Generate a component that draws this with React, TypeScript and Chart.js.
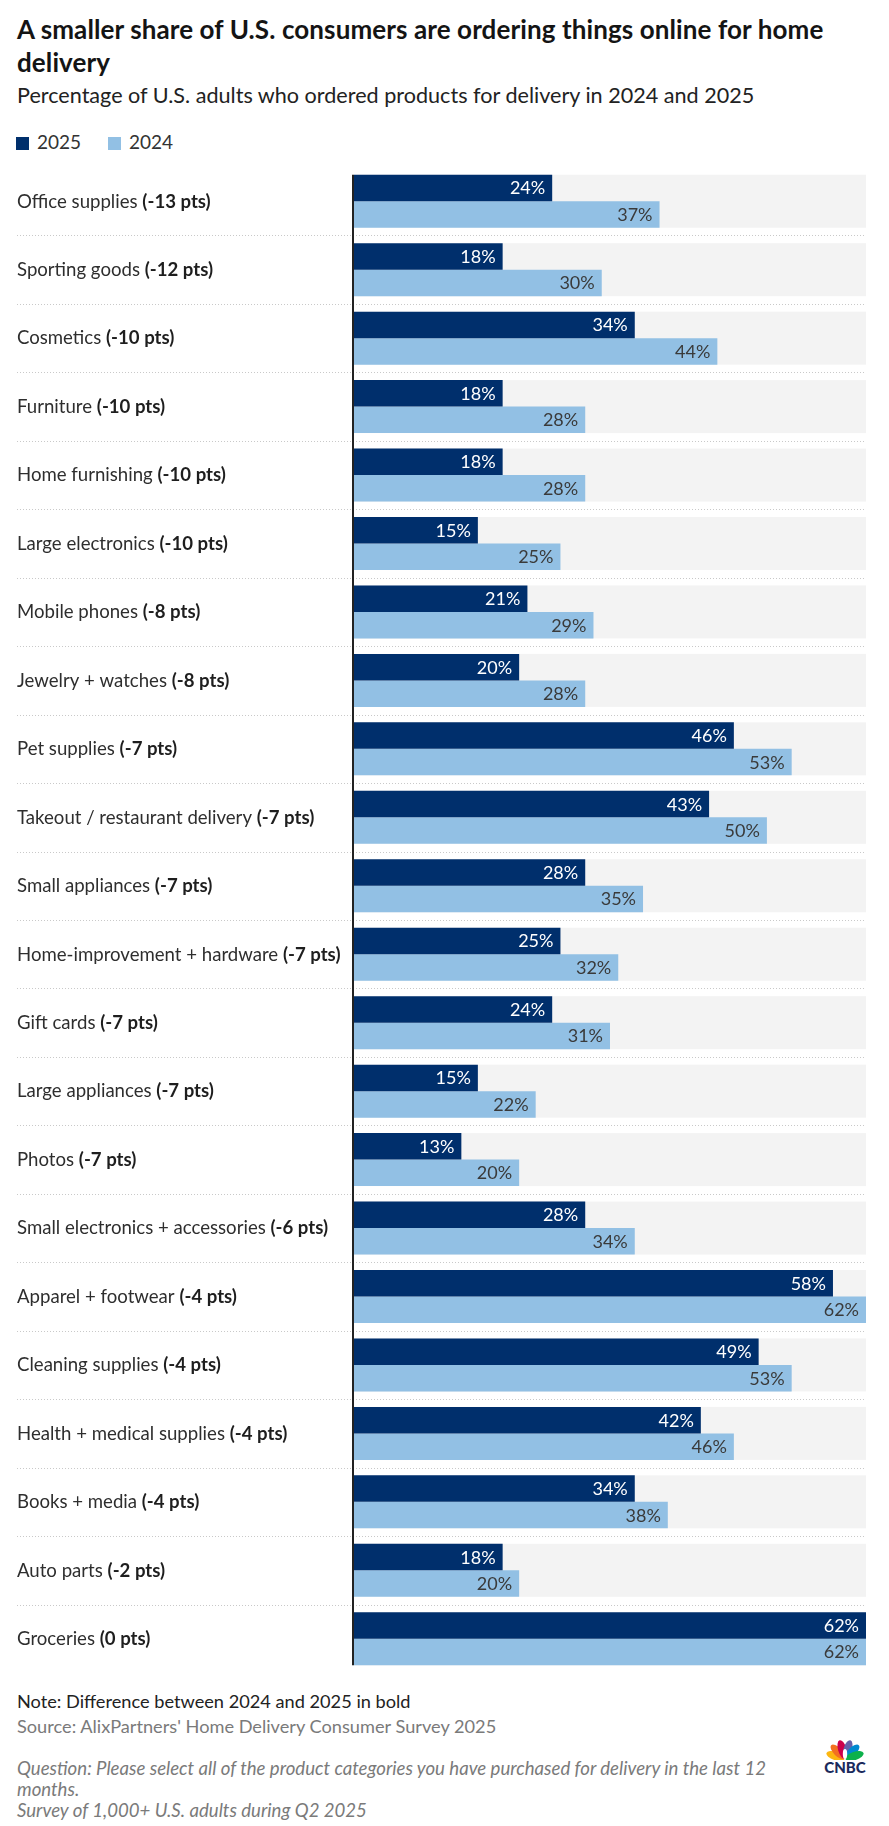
import { useEffect, useRef } from "react";
import { Chart, registerables } from "chart.js";

Chart.register(...registerables);

// Product categories, top to bottom
const categories = [
  "Office supplies",
  "Sporting goods",
  "Cosmetics",
  "Furniture",
  "Home furnishing",
  "Large electronics",
  "Mobile phones",
  "Jewelry + watches",
  "Pet supplies",
  "Takeout / restaurant delivery",
  "Small appliances",
  "Home-improvement + hardware",
  "Gift cards",
  "Large appliances",
  "Photos",
  "Small electronics + accessories",
  "Apparel + footwear",
  "Cleaning supplies",
  "Health + medical supplies",
  "Books + media",
  "Auto parts",
  "Groceries",
];

// Share of U.S. adults (%) who ordered each category for delivery
const values2025 = [24, 18, 34, 18, 18, 15, 21, 20, 46, 43, 28, 25, 24, 15, 13, 28, 58, 49, 42, 34, 18, 62];
const values2024 = [37, 30, 44, 28, 28, 25, 29, 28, 53, 50, 35, 32, 31, 22, 20, 34, 62, 53, 46, 38, 20, 62];

const seriesNames = ["2025", "2024"];
const axisMax = 62;

const FONT = "Lato, 'Noto Sans', sans-serif";
const DARK = "#002f6c";
const LIGHT = "#92c0e4";

const decorPlugin = {
  id: "decor",
  beforeDatasetsDraw(chart: any) {
    const ctx = chart.ctx;
    const area = chart.chartArea;
    const top = chart.getDatasetMeta(0).data;
    const bot = chart.getDatasetMeta(1).data;
    ctx.save();
    // light grey track behind each pair of bars
    ctx.fillStyle = "#f3f3f3";
    for (let i = 0; i < top.length; i++) {
      const y0 = top[i].y - top[i].height / 2;
      const y1 = bot[i].y + bot[i].height / 2;
      ctx.fillRect(area.left, y0, area.right - area.left, y1 - y0);
    }
    // dotted separators between rows
    ctx.strokeStyle = "#c9c9c9";
    ctx.lineWidth = 1;
    ctx.setLineDash([1, 2]);
    for (let i = 0; i < top.length - 1; i++) {
      const a = bot[i].y + bot[i].height / 2;
      const b = top[i + 1].y - top[i + 1].height / 2;
      const y = Math.round((a + b) / 2) + 0.5;
      ctx.beginPath();
      ctx.moveTo(17, y);
      ctx.lineTo(area.right, y);
      ctx.stroke();
    }
    ctx.restore();
  },
  afterDatasetsDraw(chart: any) {
    const ctx = chart.ctx;
    const area = chart.chartArea;
    const top = chart.getDatasetMeta(0).data;
    const bot = chart.getDatasetMeta(1).data;
    ctx.save();

    // baseline axis
    const yStart = top[0].y - top[0].height / 2;
    const last = bot.length - 1;
    const yEnd = bot[last].y + bot[last].height / 2;
    ctx.fillStyle = "#222222";
    ctx.fillRect(area.left - 2, yStart, 2, yEnd - yStart);

    // value labels inside the bar ends
    const fs = 18;
    ctx.font = `400 ${fs}px ${FONT}`;
    ctx.textAlign = "right";
    ctx.textBaseline = "alphabetic";
    const metas = [
      { els: top, vals: values2025, color: "#ffffff" },
      { els: bot, vals: values2024, color: "#3a3a3a" },
    ];
    for (const m of metas) {
      ctx.fillStyle = m.color;
      m.els.forEach((el: any, i: number) => {
        ctx.fillText(`${m.vals[i]}%`, el.x - 7, el.y + fs * 0.36);
      });
    }

    // category labels with the year-over-year change in bold
    ctx.textAlign = "left";
    const lf = 18.6;
    for (let i = 0; i < categories.length; i++) {
      const cy = (top[i].y - top[i].height / 2 + bot[i].y + bot[i].height / 2) / 2;
      const by = cy + lf * 0.34;
      const diff = values2025[i] - values2024[i];
      const name = categories[i] + " ";
      const delta = `(${diff} pts)`;
      ctx.font = `400 ${lf}px ${FONT}`;
      ctx.fillStyle = "#2e2e2e";
      ctx.fillText(name, 17, by);
      const w = ctx.measureText(name).width;
      ctx.font = `700 ${lf}px ${FONT}`;
      ctx.fillStyle = "#1e1e1e";
      ctx.fillText(delta, 17 + w, by);
    }
    ctx.restore();
  },
};

function Peacock() {
  const colors = ["#fcb711", "#f37021", "#cc004c", "#6460aa", "#0089d0", "#0db14b"];
  const angles = [-72, -45, -16, 16, 45, 72];
  return (
    <svg width="40" height="22" viewBox="0 0 40 22" style={{ display: "block", margin: "0 auto" }}>
      {angles.map((a, i) => (
        <ellipse
          key={i}
          cx={20}
          cy={11}
          rx={4.2}
          ry={9.5}
          fill={colors[i]}
          transform={`rotate(${a} 20 21)`}
        />
      ))}
      <ellipse cx={20} cy={16} rx={2.2} ry={5} fill="#ffffff" />
    </svg>
  );
}

export default function App() {
  const canvasRef = useRef<HTMLCanvasElement | null>(null);

  useEffect(() => {
    if (!canvasRef.current) return;
    const chart = new Chart(canvasRef.current, {
      type: "bar",
      data: {
        labels: categories,
        datasets: [
          { label: seriesNames[0], data: values2025, backgroundColor: DARK },
          { label: seriesNames[1], data: values2024, backgroundColor: LIGHT },
        ],
      },
      options: {
        indexAxis: "y",
        responsive: false,
        animation: false,
        maintainAspectRatio: false,
        layout: { padding: { left: 354, right: 23, top: 17, bottom: 17 } },
        datasets: { bar: { categoryPercentage: 0.774, barPercentage: 1 } },
        scales: {
          x: { display: false, min: 0, max: axisMax },
          y: { display: false },
        },
        plugins: {
          legend: { display: false },
          tooltip: { enabled: false },
        },
      },
      plugins: [decorPlugin],
    });
    return () => chart.destroy();
  }, []);

  const base: React.CSSProperties = { position: "absolute", left: 17, margin: 0, fontFamily: FONT, whiteSpace: "nowrap" };

  return (
    <div style={{ position: "absolute", left: 0, top: 0, width: 889, height: 1826, background: "#ffffff" }}>
      <div
        style={{
          ...base,
          top: 13,
          fontSize: 26,
          lineHeight: "33.4px",
          fontWeight: 700,
          letterSpacing: "0.1px",
          color: "#141414",
        }}
      >
        A smaller share of U.S. consumers are ordering things online for home
        <br />
        delivery
      </div>
      <div style={{ ...base, top: 83, fontSize: 21.6, lineHeight: "24px", color: "#222" }}>
        Percentage of U.S. adults who ordered products for delivery in 2024 and 2025
      </div>

      <div style={{ position: "absolute", left: 16, top: 137, width: 13, height: 13, background: DARK }} />
      <div style={{ ...base, left: 37, top: 132, fontSize: 19, lineHeight: "20px", color: "#333" }}>{seriesNames[0]}</div>
      <div style={{ position: "absolute", left: 108, top: 137, width: 13, height: 13, background: LIGHT }} />
      <div style={{ ...base, left: 129, top: 132, fontSize: 19, lineHeight: "20px", color: "#333" }}>{seriesNames[1]}</div>

      <canvas
        ref={canvasRef}
        width={889}
        height={1540}
        style={{ position: "absolute", left: 0, top: 150, width: 889, height: 1540 }}
      />

      <div style={{ ...base, top: 1691, fontSize: 18.2, lineHeight: "21px", color: "#222" }}>
        Note: Difference between 2024 and 2025 in bold
      </div>
      <div style={{ ...base, top: 1716, fontSize: 18.2, lineHeight: "21px", color: "#7a7a7a" }}>
        Source: AlixPartners' Home Delivery Consumer Survey 2025
      </div>
      <div style={{ ...base, top: 1758, fontSize: 18.6, lineHeight: "21px", color: "#7a7a7a", fontStyle: "italic" }}>
        Question: Please select all of the product categories you have purchased for delivery in the last 12
        <br />
        months.
        <br />
        Survey of 1,000+ U.S. adults during Q2 2025
      </div>

      <div style={{ position: "absolute", left: 822, top: 1738, width: 46 }}>
        <Peacock />
        <div
          style={{
            fontFamily: FONT,
            fontWeight: 900,
            fontSize: 15,
            lineHeight: "14px",
            color: "#1b2a5c",
            textAlign: "center",
            letterSpacing: 0,
          }}
        >
          CNBC
        </div>
      </div>
    </div>
  );
}
